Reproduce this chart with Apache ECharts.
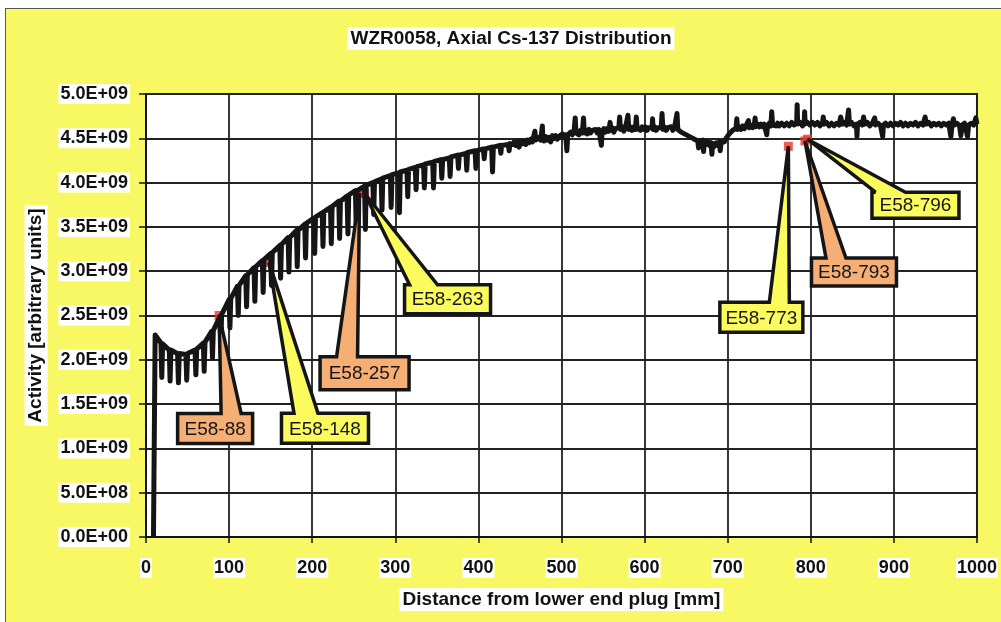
<!DOCTYPE html>
<html>
<head>
<meta charset="utf-8">
<script src="https://cdn.jsdelivr.net/npm/echarts@6/dist/echarts.min.js"></script>
<style>
  html, body { margin: 0; padding: 0; background: #ffffff; }
  #frame {
    position: absolute; left: 5px; top: 8px; width: 1000px; height: 620px;
    background: #f8f864; border: 1px solid #555;
  }
  #chart { position: absolute; left: 0; top: 0; width: 1001px; height: 622px; }
</style>
</head>
<body>
<div id="frame"></div>
<div id="chart"></div>
<script>
// Axial gamma scan of rod WZR0058: [distance from lower end plug (mm), Cs-137 activity (arb. units)]
const scanLower = [
  [9, 0], [11, 2.28e9],
  [18, 2.19e9], [19, 1.80e9], [20, 2.18e9],
  [28, 2.11e9], [29, 1.76e9], [30, 2.11e9],
  [38, 2.07e9], [39, 1.74e9], [40, 2.07e9],
  [48, 2.06e9], [49, 1.77e9], [50, 2.07e9],
  [59, 2.11e9], [60, 1.83e9], [61, 2.12e9],
  [69, 2.19e9], [70, 1.87e9], [71, 2.20e9],
  [79, 2.32e9], [80, 2.02e9], [81, 2.33e9],
  [89, 2.49e9], [90, 2.16e9], [91, 2.51e9],
  [100, 2.68e9], [101, 2.36e9], [102, 2.69e9],
  [110, 2.83e9], [111, 2.50e9], [112, 2.84e9],
  [120, 2.95e9], [121, 2.60e9], [122, 2.96e9],
  [130, 3.04e9], [131, 2.66e9], [132, 3.05e9],
  [140, 3.12e9], [141, 2.76e9], [142, 3.13e9],
  [150, 3.20e9], [151, 2.84e9], [152, 3.21e9],
  [161, 3.29e9], [162, 2.92e9], [163, 3.30e9],
  [171, 3.38e9], [172, 2.99e9], [173, 3.38e9],
  [181, 3.46e9], [182, 3.05e9], [183, 3.46e9],
  [191, 3.53e9], [192, 3.15e9], [193, 3.54e9],
  [202, 3.60e9], [203, 3.20e9], [204, 3.61e9],
  [212, 3.66e9], [213, 3.28e9], [214, 3.67e9],
  [222, 3.72e9], [223, 3.31e9], [224, 3.73e9],
  [232, 3.79e9], [233, 3.37e9], [234, 3.79e9],
  [242, 3.85e9], [243, 3.42e9], [244, 3.86e9],
  [252, 3.91e9], [253, 3.48e9], [254, 3.91e9],
  [263, 3.96e9], [264, 3.47e9], [265, 3.97e9],
  [273, 4.00e9], [274, 3.64e9], [275, 4.01e9],
  [283, 4.04e9], [284, 3.69e9], [285, 4.05e9],
  [294, 4.08e9], [295, 3.72e9], [296, 4.09e9],
  [304, 4.11e9], [305, 3.66e9], [306, 4.12e9],
  [314, 4.14e9], [315, 3.84e9], [316, 4.15e9],
  [324, 4.17e9], [325, 3.92e9], [326, 4.18e9],
  [334, 4.20e9], [335, 3.94e9], [336, 4.21e9],
  [345, 4.23e9], [346, 3.94e9], [347, 4.24e9],
  [355, 4.26e9], [356, 4.05e9], [357, 4.26e9],
  [365, 4.28e9], [366, 4.07e9], [367, 4.29e9],
  [375, 4.31e9], [376, 4.16e9], [377, 4.31e9],
  [385, 4.33e9], [386, 4.14e9], [387, 4.34e9],
  [396, 4.36e9], [397, 4.16e9], [398, 4.36e9],
  [406, 4.38e9], [407, 4.27e9], [408, 4.38e9],
  [416, 4.40e9], [417, 4.12e9], [418, 4.40e9],
  [426, 4.42e9], [427, 4.33e9], [428, 4.42e9],
  [436, 4.43e9], [437, 4.36e9], [438, 4.44e9]
];

const scanMiddle = [
  [441, 4.43e9], [443, 4.46e9], [445, 4.42e9], [447, 4.46e9], [449, 4.40e9], [451, 4.47e9],
  [453, 4.44e9], [455, 4.47e9], [457, 4.43e9], [459, 4.48e9], [461, 4.45e9], [463, 4.49e9],
  [465, 4.46e9], [467, 4.47e9], [468, 4.58e9], [469, 4.48e9], [471, 4.46e9], [473, 4.51e9],
  [475, 4.48e9], [476.5, 4.50e9], [477, 4.64e9], [477.5, 4.50e9], [479, 4.47e9], [481, 4.52e9],
  [483, 4.48e9], [485, 4.51e9], [487, 4.46e9], [489, 4.53e9], [491, 4.50e9], [493, 4.53e9],
  [495, 4.49e9], [497, 4.52e9], [499, 4.50e9], [501, 4.55e9], [503, 4.51e9], [505, 4.54e9],
  [506.5, 4.36e9], [507.5, 4.54e9], [509, 4.53e9], [511, 4.57e9], [513, 4.54e9], [515, 4.57e9],
  [516.5, 4.73e9], [517.5, 4.56e9], [519, 4.58e9], [521, 4.54e9], [523, 4.59e9], [525, 4.56e9],
  [526.5, 4.73e9], [527.5, 4.56e9], [529, 4.59e9], [531, 4.55e9], [533, 4.60e9], [535, 4.56e9],
  [537, 4.59e9], [539, 4.57e9], [541, 4.60e9], [543, 4.56e9], [545, 4.60e9], [547, 4.58e9],
  [548, 4.42e9], [549, 4.58e9], [551, 4.61e9], [553, 4.57e9], [555, 4.61e9], [557, 4.58e9],
  [558.5, 4.68e9], [559.5, 4.59e9], [561, 4.62e9], [563, 4.57e9], [565, 4.61e9], [567, 4.59e9],
  [569, 4.62e9], [570, 4.74e9], [571, 4.60e9], [573, 4.63e9], [575, 4.58e9], [577, 4.62e9],
  [579, 4.60e9], [580, 4.76e9], [581, 4.60e9], [583, 4.63e9], [585, 4.59e9], [587, 4.63e9],
  [589, 4.60e9], [590, 4.74e9], [591, 4.61e9], [593, 4.63e9], [595, 4.59e9], [597, 4.63e9],
  [599, 4.60e9], [601, 4.63e9], [603, 4.59e9], [605, 4.62e9], [607, 4.60e9], [609, 4.62e9],
  [609.6, 4.72e9], [610.2, 4.60e9], [612, 4.63e9], [614, 4.59e9], [616, 4.62e9], [618, 4.60e9],
  [620, 4.62e9], [621, 4.78e9], [622, 4.60e9], [624, 4.63e9], [626, 4.59e9], [628, 4.62e9],
  [630, 4.60e9], [632, 4.63e9], [634, 4.59e9], [636, 4.62e9], [638, 4.60e9], [639, 4.78e9],
  [640, 4.60e9], [642, 4.61e9], [644, 4.57e9], [646, 4.59e9], [648, 4.55e9], [650, 4.57e9],
  [652, 4.53e9], [654, 4.55e9], [656, 4.51e9], [658, 4.53e9], [660, 4.49e9], [662, 4.51e9],
  [664, 4.47e9], [665, 4.39e9], [666, 4.47e9], [668, 4.45e9], [670, 4.48e9], [671, 4.35e9],
  [672, 4.46e9], [674, 4.43e9], [676, 4.46e9], [678, 4.42e9], [680, 4.45e9], [681, 4.32e9],
  [682, 4.44e9], [684, 4.41e9], [686, 4.45e9], [688, 4.42e9], [690, 4.46e9], [691, 4.36e9],
  [692, 4.45e9], [694, 4.47e9], [696, 4.46e9], [698, 4.50e9], [700, 4.51e9], [702, 4.55e9],
  [704, 4.55e9], [706, 4.59e9], [708, 4.58e9], [710, 4.61e9], [711, 4.72e9], [712, 4.60e9],
  [714, 4.63e9], [716, 4.60e9], [718, 4.64e9], [720, 4.61e9], [722, 4.64e9], [724, 4.62e9],
  [725, 4.70e9], [726, 4.62e9], [728, 4.65e9], [730, 4.62e9], [732, 4.65e9], [733, 4.73e9],
  [734, 4.63e9], [736, 4.66e9], [738, 4.63e9], [740, 4.66e9], [742, 4.63e9], [744, 4.66e9],
  [746, 4.64e9], [747, 4.54e9], [748, 4.64e9], [750, 4.67e9], [752, 4.64e9], [753, 4.80e9],
  [754, 4.65e9], [756, 4.67e9], [758, 4.64e9], [760, 4.67e9]
];

const scanUpper = [
  [762, 4.64e9], [765, 4.67e9], [768, 4.64e9], [771, 4.67e9], [774, 4.64e9], [777, 4.68e9],
  [780, 4.65e9], [783, 4.67e9], [783.6, 4.88e9], [784.2, 4.66e9], [787, 4.68e9], [790, 4.64e9],
  [792, 4.67e9], [792.6, 4.80e9], [793.2, 4.66e9], [796, 4.68e9], [799, 4.65e9], [802, 4.68e9],
  [805, 4.65e9], [808, 4.68e9], [811, 4.64e9], [814, 4.67e9], [815, 4.74e9], [816, 4.66e9],
  [819, 4.68e9], [822, 4.64e9], [825, 4.67e9], [828, 4.64e9], [831, 4.67e9], [834, 4.65e9],
  [836, 4.74e9], [838, 4.66e9], [841, 4.68e9], [843, 4.65e9], [845.5, 4.82e9], [846.5, 4.66e9],
  [849, 4.68e9], [852, 4.64e9], [855, 4.66e9], [855.6, 4.52e9], [856.2, 4.65e9], [859, 4.68e9],
  [862, 4.65e9], [863.6, 4.74e9], [865, 4.66e9], [868, 4.68e9], [871, 4.64e9], [874, 4.67e9],
  [877, 4.73e9], [878, 4.65e9], [881, 4.67e9], [884, 4.64e9], [886.5, 4.52e9], [887.5, 4.65e9],
  [890, 4.67e9], [893, 4.64e9], [896, 4.67e9], [899, 4.64e9], [902, 4.67e9], [905, 4.65e9],
  [908, 4.68e9], [911, 4.64e9], [914, 4.67e9], [917, 4.64e9], [920, 4.67e9], [923, 4.65e9],
  [926, 4.68e9], [929, 4.64e9], [932, 4.67e9], [935, 4.65e9], [937.6, 4.74e9], [939, 4.66e9],
  [942, 4.68e9], [945, 4.64e9], [948, 4.67e9], [951, 4.65e9], [954, 4.67e9], [957, 4.64e9],
  [960, 4.67e9], [963, 4.65e9], [966, 4.67e9], [968.6, 4.52e9], [970, 4.65e9], [971.6, 4.72e9],
  [973, 4.65e9], [976, 4.67e9], [979, 4.64e9], [980.6, 4.53e9], [982, 4.65e9], [985, 4.67e9],
  [987, 4.65e9], [988.6, 4.52e9], [990, 4.65e9], [993, 4.67e9], [996, 4.65e9], [998.6, 4.73e9],
  [1000, 4.66e9]
];

// Sampled pellet positions (mm) and the activity at those positions
const sampleNames = ['E58-88', 'E58-148', 'E58-257', 'E58-263', 'E58-773', 'E58-793', 'E58-796'];
const samplePositions = [88, 148, 257, 263, 773, 793, 796];
const sampleActivity = [2.50e9, 3.10e9, 3.88e9, 3.88e9, 4.41e9, 4.47e9, 4.49e9];

// Axis ticks
const xTicks = { min: 0, max: 1000, step: 100 };
const yTicks = { min: 0, max: 5.0e9, step: 0.5e9 };

// Callout boxes: offset of the box centre from the sample point (px), box size, wedge base on the box top
const ORANGE = '#f5ae74';
const YELLOW = '#fbfb5e';
const calloutLayout = [
  { dx: -4,  dy: 113, w: 75, h: 30, baseL: 6,   baseR: 26,  fill: ORANGE },
  { dx: 56,  dy: 166, w: 87, h: 30, baseL: -31, baseR: -7,  fill: YELLOW },
  { dx: 5,   dy: 180, w: 89, h: 33, baseL: -28, baseR: -7,  fill: ORANGE },
  { dx: 83,  dy: 106, w: 86, h: 29, baseL: -38, baseR: -10, fill: YELLOW },
  { dx: -27, dy: 171, w: 83, h: 30, baseL: 8,   baseR: 28,  fill: YELLOW },
  { dx: 49,  dy: 131, w: 85, h: 28, baseL: -28, baseR: -8,  fill: ORANGE },
  { dx: 108, dy: 66,  w: 87, h: 26, baseL: -40, baseR: -10, fill: YELLOW }
];

function sciLabel(v) {
  if (v === 0) return '0.0E+00';
  const e = Math.floor(Math.log10(v) + 1e-9);
  const m = v / Math.pow(10, e);
  return m.toFixed(1) + 'E+' + String(e).padStart(2, '0');
}

const FONT = '"Liberation Sans", Arial, sans-serif';
const chart = echarts.init(document.getElementById('chart'), null, { renderer: 'canvas' });

chart.setOption({
  animation: false,
  backgroundColor: 'transparent',
  title: {
    text: 'WZR0058, Axial Cs-137 Distribution',
    left: 508, top: 27, textAlign: 'center',
    backgroundColor: '#ffffff',
    padding: [2, 3],
    textStyle: { fontFamily: FONT, fontSize: 19, fontWeight: 'bold', color: '#111' }
  },
  grid: {
    left: 146, right: 24, top: 94, bottom: 85,
    show: true, backgroundColor: '#ffffff', borderColor: '#111', borderWidth: 2
  },
  xAxis: {
    type: 'value', min: xTicks.min, max: xTicks.max, interval: xTicks.step,
    name: 'Distance from lower end plug [mm]',
    nameLocation: 'middle', nameGap: 51,
    nameTextStyle: {
      fontFamily: FONT, fontSize: 19, fontWeight: 'bold', color: '#111',
      backgroundColor: '#ffffff', padding: [2, 3]
    },
    axisLine: { lineStyle: { color: '#111', width: 2 } },
    axisTick: { show: true, inside: false, length: 6, lineStyle: { color: '#111', width: 1.5 } },
    axisLabel: {
      margin: 21, fontFamily: FONT, fontSize: 18, fontWeight: 'bold', color: '#111',
      backgroundColor: '#ffffff', padding: [1, 1],
      formatter: (v) => String(v)
    },
    splitLine: { show: true, lineStyle: { color: '#222', width: 1.8 } }
  },
  yAxis: {
    type: 'value', min: yTicks.min, max: yTicks.max, interval: yTicks.step,
    name: 'Activity [arbitrary units]',
    nameLocation: 'middle', nameGap: 97, nameRotate: 90,
    nameTextStyle: {
      fontFamily: FONT, fontSize: 19, fontWeight: 'bold', color: '#111',
      backgroundColor: '#ffffff', padding: [2, 3]
    },
    axisLine: { show: true, lineStyle: { color: '#111', width: 2 } },
    axisTick: { show: true, inside: false, length: 7, lineStyle: { color: '#111', width: 1.5 } },
    axisLabel: {
      margin: 16, fontFamily: FONT, fontSize: 18, fontWeight: 'bold', color: '#111',
      backgroundColor: '#ffffff', padding: [1, 2],
      formatter: sciLabel
    },
    splitLine: { show: true, lineStyle: { color: '#222', width: 1.8 } }
  },
  series: [
    {
      name: 'Samples',
      type: 'scatter',
      z: 2,
      symbol: 'rect',
      symbolSize: 9,
      itemStyle: { color: '#e8332a' },
      data: samplePositions.map((x, i) => [x, sampleActivity[i]])
    },
    {
      name: 'Cs-137',
      type: 'line',
      z: 3,
      showSymbol: false,
      symbol: 'none',
      lineStyle: { color: '#151515', width: 5, join: 'round' },
      data: scanLower.concat(scanMiddle, scanUpper)
    },
    {
      name: 'Sample labels',
      type: 'custom',
      z: 4,
      data: samplePositions.map((x, i) => [x, sampleActivity[i]]),
      renderItem(params, api) {
        const p = api.coord([api.value(0), api.value(1)]);
        const c = calloutLayout[params.dataIndex];
        const cx = p[0] + c.dx, cy = p[1] + c.dy;
        const l = cx - c.w / 2, r = cx + c.w / 2, t = cy - c.h / 2, b = cy + c.h / 2;
        return {
          type: 'group',
          children: [
            {
              type: 'polygon',
              shape: { points: [[l, t], [cx + c.baseL, t], p, [cx + c.baseR, t], [r, t], [r, b], [l, b]] },
              style: { fill: c.fill, stroke: '#151515', lineWidth: 3.5, lineJoin: 'miter', miterLimit: 2 }
            },
            {
              type: 'text',
              style: {
                text: sampleNames[params.dataIndex], x: cx, y: cy + 1,
                align: 'center', verticalAlign: 'middle',
                font: '19px ' + FONT, fill: '#151515'
              }
            }
          ]
        };
      }
    }
  ]
});
</script>
</body>
</html>
